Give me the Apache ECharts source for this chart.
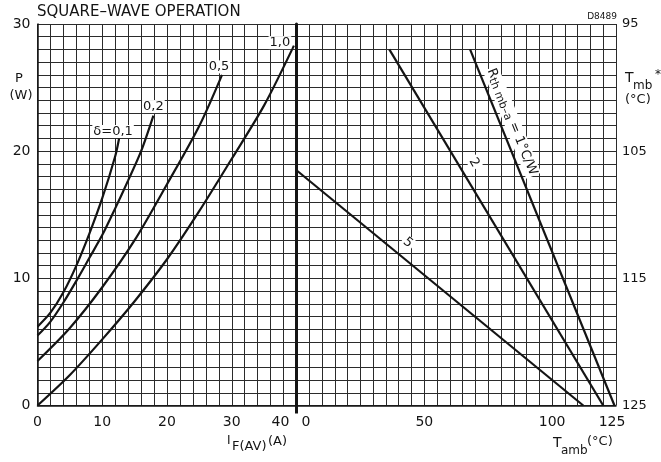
<!DOCTYPE html>
<html><head><meta charset="utf-8">
<script src="https://cdn.jsdelivr.net/npm/echarts@6/dist/echarts.min.js"></script>
<style>html,body{margin:0;padding:0;background:#fff}#c{width:661px;height:462px}</style>
</head><body><div id="c"></div>
<script>
// tick labels
const ifTicks = [0, 10, 20, 30, 40];
const pTicks = [0, 10, 20, 30];
const tambTicks = [0, 50, 100, 125];
const tmbTicks = [95, 105, 115, 125];

// left panel: P (W) vs IF(AV) (A) for duty cycles
const d01_if = [0, 2, 4, 6, 8, 10, 12, 12.6];
const d01_p  = [6.2, 7.3, 8.9, 11.0, 13.5, 16.3, 19.6, 21.0];
const d02_if = [0, 2, 4, 6, 8, 10, 12, 14, 16, 17.9];
const d02_p  = [5.5, 6.6, 8.1, 9.8, 11.6, 13.4, 15.5, 17.7, 20.0, 22.8];
const d05_if = [0, 5, 10, 15, 20, 25, 28.5];
const d05_p  = [3.5, 6.1, 9.3, 13.0, 17.4, 22.0, 26.0];
const d10_if = [0, 5, 10, 15, 20, 25, 30, 35, 39.6];
const d10_p  = [0, 2.4, 5.2, 8.2, 11.5, 15.3, 19.4, 23.6, 28.3];

// right panel: P (W) vs Tamb (°C) for Rth mb-a
const r1_t = [67.9, 124.4];  const r1_p = [28.0, 0];
const r2_t = [36.3, 120.0];  const r2_p = [28.0, 0];
const r5_t = [0, 112.2];     const r5_p = [18.5, 0];

const FONT = 'DejaVu Sans';
const INK = '#141414';
const GRIDC = '#2b2b2b';

function pts(xs, ys) { return xs.map((x, i) => [x, ys[i]]); }

function tickFmt(list) { return v => list.includes(v) ? String(v) : ''; }

const chart = echarts.init(document.getElementById('c'), null, {renderer: 'canvas'});

function curve(name, xs, ys, lbl, off) {
  return {
    type: 'line', name, xAxisIndex: 0, yAxisIndex: 0,
    data: pts(xs, ys), smooth: 0.3, showSymbol: false, silent: true,
    lineStyle: {color: INK, width: 2.2},
    markPoint: {
      symbol: 'circle', symbolSize: 1, itemStyle: {color: 'rgba(0,0,0,0)'}, silent: true,
      data: [{coord: [xs[xs.length - 1], ys[ys.length - 1]],
        label: {show: true, position: 'top', formatter: lbl, offset: off,
          color: INK, fontFamily: FONT, fontSize: 13, backgroundColor: '#fff', padding: [0, 1]}}]
    }
  };
}

function rline(xs, ys, mp) {
  return {
    type: 'line', xAxisIndex: 1, yAxisIndex: 1,
    data: pts(xs, ys), showSymbol: false, silent: true,
    lineStyle: {color: INK, width: 2.2},
    markPoint: {symbol: 'circle', symbolSize: 1, itemStyle: {color: 'rgba(0,0,0,0)'}, silent: true, data: [mp]}
  };
}

const axisTxt = {color: INK, fontFamily: FONT, fontSize: 14};

const option = {
  animation: false,
  backgroundColor: '#fff',
  grid: [
    {left: 37.5, top: 24, width: 259, height: 381.5},
    {left: 296.5, top: 24, width: 319.5, height: 381.5}
  ],
  xAxis: [
    {gridIndex: 0, type: 'value', min: 0, max: 40, interval: 2,
      axisLine: {show: true, lineStyle: {color: INK, width: 1.5}}, axisTick: {show: false},
      splitLine: {show: true, lineStyle: {color: GRIDC, width: 1}},
      axisLabel: Object.assign({}, axisTxt, {margin: 10, showMinLabel: true, showMaxLabel: true,
        formatter: v => v === 40 ? '{r|40}' : tickFmt(ifTicks)(v),
        rich: {r: {color: INK, fontFamily: FONT, fontSize: 14, padding: [0, 32, 0, 0]}}})},
    {gridIndex: 1, type: 'value', min: 0, max: 125, interval: 5,
      axisLine: {show: true, lineStyle: {color: INK, width: 1.5}}, axisTick: {show: false},
      splitLine: {show: true, lineStyle: {color: GRIDC, width: 1}},
      axisLabel: Object.assign({}, axisTxt, {margin: 10, showMinLabel: true, showMaxLabel: true,
        formatter: v => v === 0 ? '{l|0}' : (v === 125 ? '{e|125}' : tickFmt(tambTicks)(v)),
        rich: {l: {color: INK, fontFamily: FONT, fontSize: 14, padding: [0, 0, 0, 19]},
               e: {color: INK, fontFamily: FONT, fontSize: 14, padding: [0, 8, 0, 0]}}})}
  ],
  yAxis: [
    {gridIndex: 0, type: 'value', min: 0, max: 30, interval: 1,
      axisLine: {show: true, lineStyle: {color: INK, width: 1.5}}, axisTick: {show: false},
      splitLine: {show: true, lineStyle: {color: GRIDC, width: 1}},
      axisLabel: Object.assign({}, axisTxt, {margin: 7, formatter: tickFmt(pTicks)})},
    {gridIndex: 1, type: 'value', min: 0, max: 30, interval: 1, position: 'left',
      axisLine: {show: true, lineStyle: {color: INK, width: 3}}, axisTick: {show: false},
      splitLine: {show: true, lineStyle: {color: GRIDC, width: 1}},
      axisLabel: {show: false}},
    {gridIndex: 1, type: 'value', min: 95, max: 125, interval: 5, inverse: true, position: 'right',
      axisLine: {show: false}, axisTick: {show: false}, splitLine: {show: false},
      axisLabel: Object.assign({}, axisTxt, {margin: 6, fontSize: 13, formatter: tickFmt(tmbTicks)})}
  ],
  series: [
    curve('d01', d01_if, d01_p, 'δ=0,1', [-6, 5]),
    curve('d02', d02_if, d02_p, '0,2', [0, 3]),
    curve('d05', d05_if, d05_p, '0,5', [-3, 4]),
    curve('d10', d10_if, d10_p, '1,0', [-14, 9]),
    rline(r1_t, r1_p, {coord: [84.3, 22.3], label: {show: true, position: 'inside', rotate: -68,
      formatter: '{n|R}{s|th mb–a}{n| = 1°C/W}', backgroundColor: '#fff', padding: [0, 1],
      rich: {n: {fontFamily: FONT, fontSize: 13, color: INK}, s: {fontFamily: FONT, fontSize: 11, color: INK, padding: [5, 0, 0, 0]}}}}),
    rline(r2_t, r2_p, {coord: [69.5, 19.1], label: {show: true, position: 'inside', rotate: -59,
      formatter: '2', color: INK, fontFamily: FONT, fontSize: 13, backgroundColor: '#fff', padding: [0, 2]}}),
    rline(r5_t, r5_p, {coord: [43.6, 12.8], label: {show: true, position: 'inside', rotate: -39,
      formatter: '5', color: INK, fontFamily: FONT, fontSize: 13, backgroundColor: '#fff', padding: [0, 2]}})
  ]
};
chart.setOption(option);

const base = chart.convertToPixel({gridIndex: 1}, [0, 0]);
function t(text, x, y, size, align) {
  return {type: 'text', silent: true, style: {text, x, y, font: size + 'px "' + FONT + '"', fill: INK,
    textAlign: align || 'left', align: align || 'left', textVerticalAlign: 'middle', verticalAlign: 'middle'}};
}
chart.setOption({
  graphic: [
    {type: 'line', silent: true, shape: {x1: base[0], y1: base[1], x2: base[0], y2: base[1] + 8},
      style: {stroke: INK, lineWidth: 3}},
    t('SQUARE–WAVE OPERATION', 37, 12, 15),
    t('D8489', 617, 17, 9, 'right'),
    t('P', 19, 79, 13, 'center'),
    t('(W)', 21, 96, 13, 'center'),
    t('T', 625, 78, 14),
    t('mb', 633, 86, 12),
    t('*', 655, 75, 12),
    t('(°C)', 625, 100, 13),
    t('I', 227, 441, 12),
    t('F(AV)', 232, 447, 13),
    t('(A)', 268, 442, 13),
    t('T', 553, 443, 14),
    t('amb', 561, 451, 12),
    t('(°C)', 587, 442, 13)
  ]
});
</script>
</body></html>
